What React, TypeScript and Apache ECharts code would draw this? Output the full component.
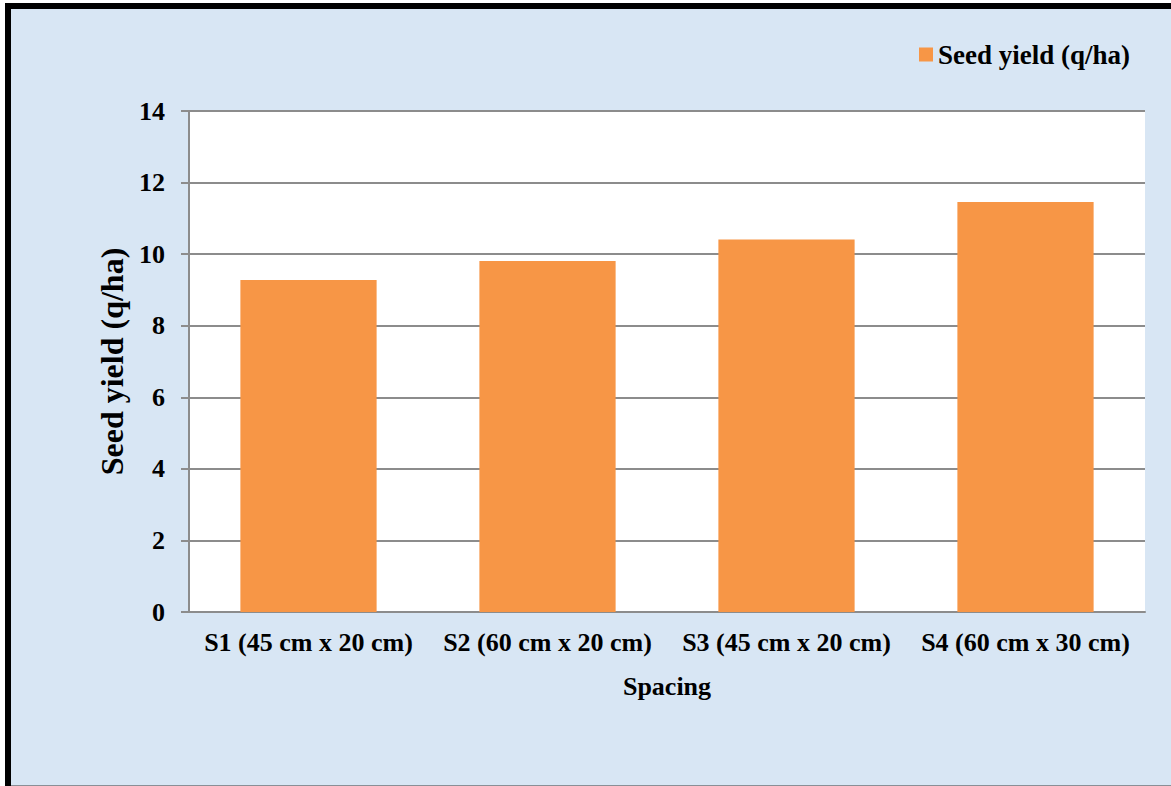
import React, { useEffect, useRef } from "react";
import * as echarts from "echarts";

const categories = [
  "S1 (45 cm x 20 cm)",
  "S2 (60 cm x 20 cm)",
  "S3 (45 cm x 20 cm)",
  "S4 (60 cm x 30 cm)",
];
const seedYield = [9.28, 9.81, 10.41, 11.46];
const seriesName = "Seed yield (q/ha)";
const yAxisTitle = "Seed yield (q/ha)";
const xAxisTitle = "Spacing";

const FONT = '"Liberation Serif", "Times New Roman", serif';

export default function App() {
  const ref = useRef<HTMLDivElement>(null);

  useEffect(() => {
    document.body.style.margin = "0";
    const chart = echarts.init(ref.current!, undefined, { renderer: "svg" });
    chart.setOption({
      animation: false,
      backgroundColor: "#ffffff",
      graphic: [
        {
          // frame: black edge on top and left, open towards right and bottom
          type: "rect",
          shape: { x: 8, y: 6, width: 1200, height: 800 },
          style: { fill: "#d8e6f4", stroke: "#000000", lineWidth: 6 },
          z: -10,
          silent: true,
        },
        {
          type: "line",
          shape: { x1: 11, y1: 785.5, x2: 1171, y2: 785.5 },
          style: { stroke: "#8a8f96", lineWidth: 1 },
          z: -9,
          silent: true,
        },
      ],
      legend: {
        left: 914,
        top: 36,
        itemWidth: 14,
        itemHeight: 14,
        icon: "rect",
        textStyle: {
          fontFamily: FONT,
          fontWeight: "bold",
          fontSize: 27,
          color: "#000000",
        },
        data: [seriesName],
      },
      grid: {
        left: 189,
        right: 26,
        top: 111,
        bottom: 174,
        show: true,
        backgroundColor: "#ffffff",
        borderWidth: 0,
      },
      xAxis: {
        type: "category",
        data: categories,
        name: xAxisTitle,
        nameLocation: "middle",
        nameGap: 61,
        nameTextStyle: {
          fontFamily: FONT,
          fontWeight: "bold",
          fontSize: 26,
          color: "#000000",
        },
        axisLine: { show: true, lineStyle: { color: "#8c8c8c", width: 2 } },
        axisTick: { show: false },
        axisLabel: {
          fontFamily: FONT,
          fontWeight: "bold",
          fontSize: 26,
          color: "#000000",
          margin: 17,
          interval: 0,
        },
      },
      yAxis: {
        type: "value",
        min: 0,
        max: 14,
        interval: 2,
        name: yAxisTitle,
        nameLocation: "middle",
        nameGap: 56,
        nameTextStyle: {
          fontFamily: FONT,
          fontWeight: "bold",
          fontSize: 32,
          color: "#000000",
        },
        axisLine: { show: true, lineStyle: { color: "#8c8c8c", width: 2 } },
        axisTick: { show: true, length: 8, lineStyle: { color: "#8c8c8c", width: 2 } },
        axisLabel: {
          fontFamily: FONT,
          fontWeight: "bold",
          fontSize: 26,
          color: "#000000",
          margin: 24,
        },
        splitLine: { show: true, lineStyle: { color: "#8c8c8c", width: 2 } },
      },
      series: [
        {
          name: seriesName,
          type: "bar",
          data: seedYield,
          barCategoryGap: "43%",
          itemStyle: { color: "#f79646" },
        },
      ],
    });
    return () => chart.dispose();
  }, []);

  return <div ref={ref} style={{ width: 1171, height: 786 }} />;
}
